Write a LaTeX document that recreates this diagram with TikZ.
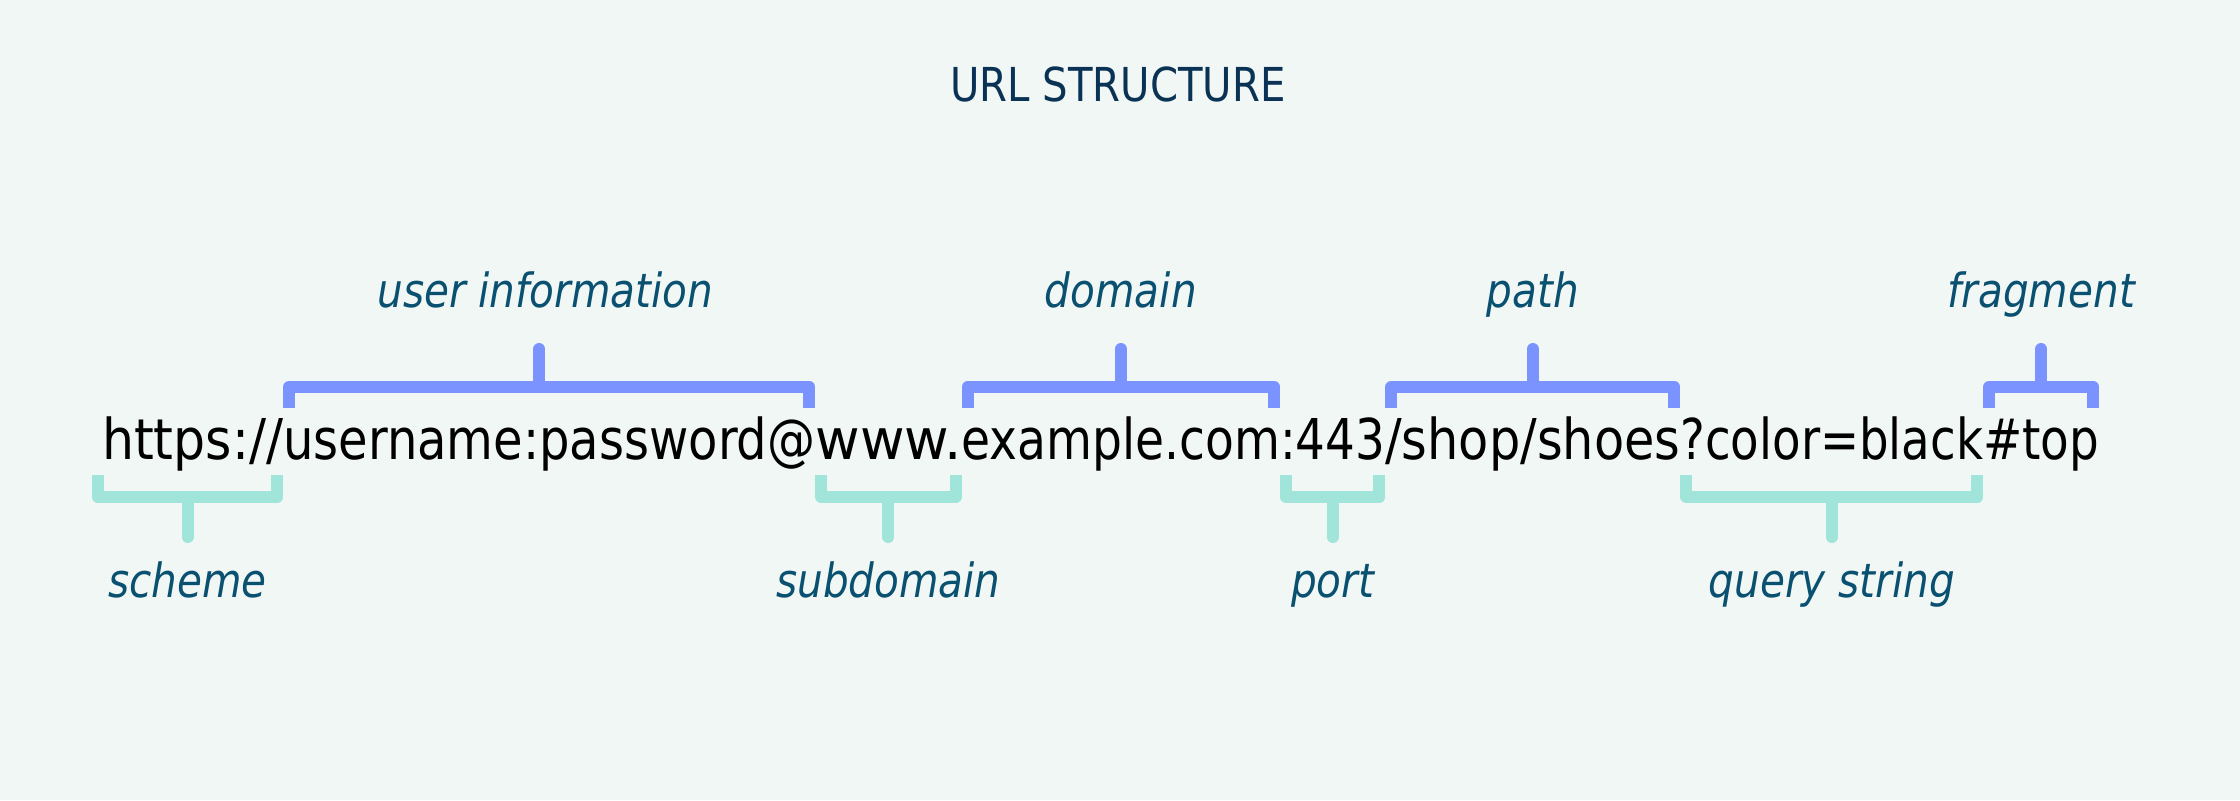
\documentclass[tikz,border=0pt]{standalone}
\usepackage{fontspec}
\usetikzlibrary{calc}
\newfontfamily\narrowsans{DejaVu Sans}[FakeStretch=0.86]
\definecolor{bgmint}{HTML}{F0F7F5}
\definecolor{braceblue}{HTML}{7A93FF}
\definecolor{braceteal}{HTML}{A0E4DA}
\definecolor{labelblue}{HTML}{0A5070}
\definecolor{titleblue}{HTML}{0A3255}
% fit one part of the url to a given width, height kept
\newcommand{\partbox}[2]{\resizebox{#1}{\height}{#2}}

\begin{document}
\begin{tikzpicture}[x=0.01cm,y=-0.01cm,
  urlpart/.style={inner sep=0pt,outer sep=0pt,anchor=base west,font=\narrowsans\fontsize{16pt}{19pt}\selectfont},
  partlabel/.style={inner sep=0pt,anchor=base,text=labelblue,font=\narrowsans\itshape\fontsize{13.4pt}{16pt}\selectfont},
  topbrace/.style={draw=braceblue,line width=0.12cm,line join=round},
  botbrace/.style={draw=braceteal,line width=0.12cm,line join=round}]
\fill[bgmint](0,0) rectangle (2240,800);
\useasboundingbox (0,0) rectangle (2240,800);

\node[inner sep=0pt,anchor=base,text=titleblue,font=\narrowsans\fontsize{13.3pt}{16pt}\selectfont] (title) at (1118,101) {URL STRUCTURE};

% the url, one node per part
\node[urlpart] (scheme) at (92,459) {\hspace{0.1cm}\partbox{1.81cm}{https://}};
\node[urlpart] (userinfo) at (scheme.base east) {\partbox{5.32cm}{username:password@}};
\node[urlpart] (subdomain) at (userinfo.base east) {\partbox{1.46cm}{www.}};
\node[urlpart] (domain) at (subdomain.base east) {\partbox{3.185cm}{example.com}};
\node[urlpart] (port) at (domain.base east) {\partbox{1.05cm}{:443}};
\node[urlpart] (path) at (port.base east) {\partbox{2.95cm}{/shop/shoes}};
\node[urlpart] (query) at (path.base east) {\partbox{3.025cm}{?color=black}};
\node[urlpart] (fragment) at (query.base east) {\partbox{1.16cm}{\#top}};

% brackets above
\draw[topbrace] ($(userinfo.west |- 0,408)+(6,0)$) |- ($(userinfo.east |- 0,387)-(6,0)$) -- ++(0,21);
\draw[topbrace,line cap=round] ($(userinfo.center |- 0,387)-(10,0)$) -- ++(0,-38);
\node[partlabel] (luserinfo) at ($(userinfo.center |- 0,307)-(4,0)$) {user information};

\draw[topbrace] ($(domain.west |- 0,408)+(6,0)$) |- ($(domain.east |- 0,387)-(6,0)$) -- ++(0,21);
\draw[topbrace,line cap=round] (domain.center |- 0,387) -- (domain.center |- 0,349);
\node[partlabel] (ldomain) at (domain.center |- 0,307) {domain};

\draw[topbrace] ($(path.west |- 0,408)+(6,0)$) |- ($(path.east |- 0,387)-(6,0)$) -- ++(0,21);
\draw[topbrace,line cap=round] (path.center |- 0,387) -- (path.center |- 0,349);
\node[partlabel] (lpath) at (path.center |- 0,307) {path};

\draw[topbrace] ($(fragment.west |- 0,408)+(6,0)$) |- ($(fragment.east |- 0,387)-(6,0)$) -- ++(0,21);
\draw[topbrace,line cap=round] (fragment.center |- 0,387) -- (fragment.center |- 0,349);
\node[partlabel] (lfragment) at (fragment.center |- 0,307) {fragment};

% brackets below
\draw[botbrace] ($(scheme.west |- 0,475)+(6,0)$) |- ($(scheme.east |- 0,497)-(6,0)$) -- ++(0,-22);
\draw[botbrace,line cap=round] (scheme.center |- 0,497) -- (scheme.center |- 0,537);
\node[partlabel] (lscheme) at (scheme.center |- 0,597) {scheme};

\draw[botbrace] ($(subdomain.west |- 0,475)+(6,0)$) |- ($(subdomain.east |- 0,497)-(6,0)$) -- ++(0,-22);
\draw[botbrace,line cap=round] (subdomain.center |- 0,497) -- (subdomain.center |- 0,537);
\node[partlabel] (lsubdomain) at (subdomain.center |- 0,597) {subdomain};

\draw[botbrace] ($(port.west |- 0,475)+(6,0)$) |- ($(port.east |- 0,497)-(6,0)$) -- ++(0,-22);
\draw[botbrace,line cap=round] (port.center |- 0,497) -- (port.center |- 0,537);
\node[partlabel] (lport) at (port.center |- 0,597) {port};

\draw[botbrace] ($(query.west |- 0,475)+(6,0)$) |- ($(query.east |- 0,497)-(6,0)$) -- ++(0,-22);
\draw[botbrace,line cap=round] (query.center |- 0,497) -- (query.center |- 0,537);
\node[partlabel] (lquery) at (query.center |- 0,597) {query string};
\end{tikzpicture}
\end{document}
